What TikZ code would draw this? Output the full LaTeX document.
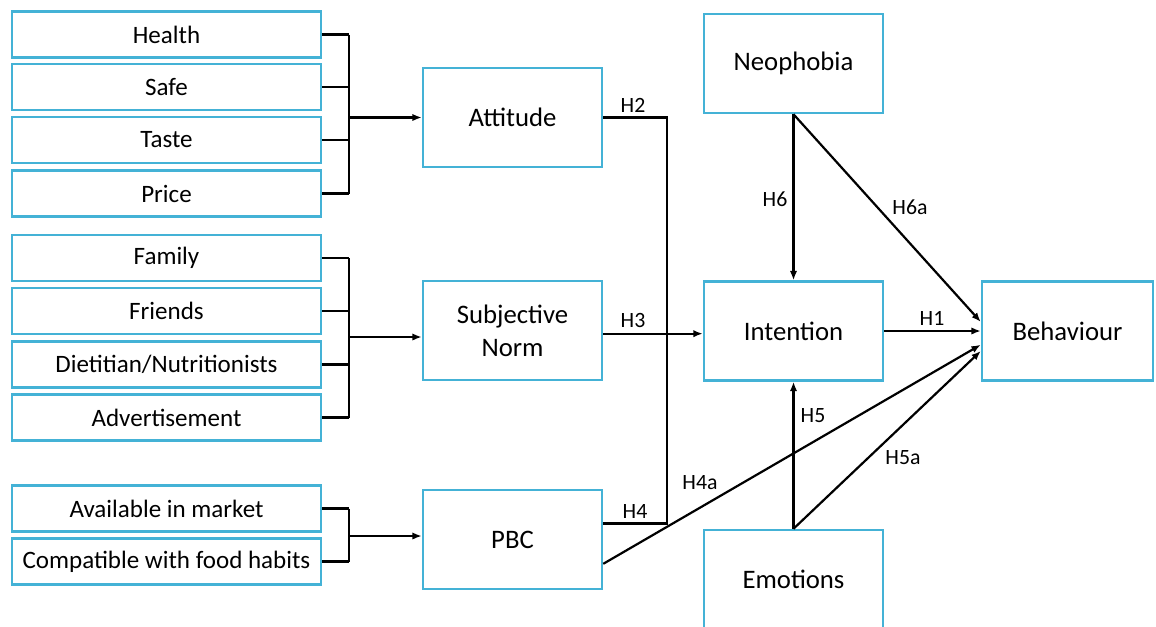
\documentclass[tikz,border=0pt]{standalone}
\usepackage{fontspec}
\setmainfont{Carlito}
\usetikzlibrary{arrows.meta}
\definecolor{boxblue}{RGB}{68,178,214}
\newlength\pxu
\setlength\pxu{0.025cm}

\begin{document}
\begin{tikzpicture}[x=1\pxu,y=-1\pxu,>={Latex[length=6.6pt,width=5.2pt]},box/.style n args={2}{draw=boxblue,line width=2.5\pxu,minimum width=#1\pxu,minimum height=#2\pxu,inner sep=0pt,rectangle,fill=white},factor/.style={box={309}{46},font=\fontsize{17.8}{20}\selectfont},construct/.style={box={179}{99},font=\fontsize{19}{23.5}\selectfont,align=center},link/.style={line width=2.2\pxu,black},hyp/.style={font=\fontsize{15.5}{17}\selectfont,inner sep=0pt}]
\useasboundingbox (0,0) rectangle (1156,626);
\foreach \y/\n/\t in %
{34.5/health/Health,87/safe/Safe,140/taste/Taste,193.5/price/Price,258/family/Family,311/friends/Friends,364.5/dietitian/{Dietitian/Nutritionists},417.5/advert/Advertisement,508.5/available/Available in market,561.5/compatible/Compatible with food habits} {
   \node[factor] (\n) at (166.5,\y) {\t};
}
\node[construct] (attitude) at (512.5,117.5) {Attitude};
\node[construct] (subjnorm) at (512.5,330.5) {Subjective\\Norm};
\node[construct] (pbc) at (512.5,539.5) {PBC};
\node[construct] (neophobia) at (793.5,63.5) {Neophobia};
\node[construct] (intention) at (793.5,331) {Intention};
\node[construct] (emotions) at (793.5,579.5) {Emotions};
\node[construct,minimum width=171\pxu] (behaviour) at (1067.5,331) {Behaviour};
\coordinate (b1) at (349,117.5);
\coordinate (b2) at (349,337);
\coordinate (b3) at (349,536);
\foreach \n in {health,safe,taste,price} {
   \draw[link] (\n.east) -- (\n.east -| b1);
}
\foreach \n in {family,friends,dietitian,advert} {
   \draw[link] (\n.east) -- (\n.east -| b2);
}
\foreach \n in {available,compatible} {
   \draw[link] (\n.east) -- (\n.east -| b3);
}
\draw[link] (health.east -| b1) -- (price.east -| b1);
\draw[link] (family.east -| b2) -- (advert.east -| b2);
\draw[link] (available.east -| b3) -- (compatible.east -| b3);
\draw[link,->] (b1) -- (b1 -| attitude.west);
\draw[link,->] (b2) -- (b2 -| subjnorm.west);
\draw[link,->] (b3) -- (b3 -| pbc.west);
\draw[link] (attitude.east) -- ++(64,0) |- (pbc.10);
\draw[link,->] (subjnorm.-2) -- (subjnorm.-2 -| intention.west);
\draw[link,->] (pbc.-15) -- (behaviour.189);
\draw[link,->] (neophobia.south) -- (intention.north);
\draw[link,->] (neophobia.south) -- (behaviour.174);
\draw[link,->] (intention.east) -- (behaviour.west);
\draw[link,->] (emotions.north) -- (intention.south);
\draw[link,->] (emotions.north) -- (behaviour.193);
\foreach \x/\y/\t in %
{633/105/H2,633/320/H3,635/511/H4,700/483/H4a,775/199/H6,910/207/H6a,932/318/H1,813/416/H5,903/458/H5a} {
   \node[hyp] (\t) at (\x,\y) {\t};
}
\end{tikzpicture}
\end{document}
